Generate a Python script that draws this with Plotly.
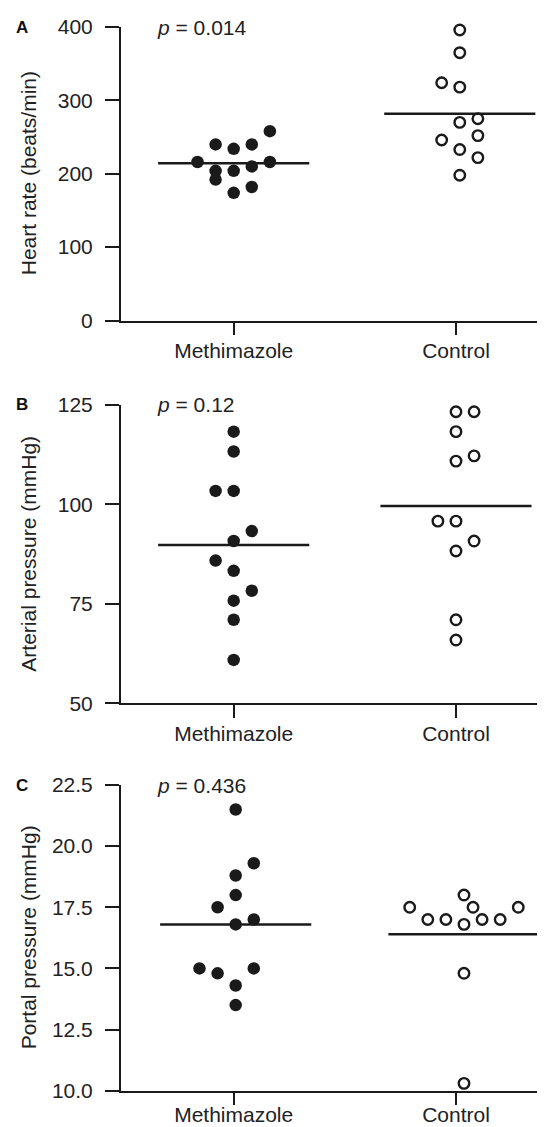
import numpy as np
import plotly.graph_objects as go

# ---------------- data ----------------
categories = ["Methimazole", "Control"]

hr_methimazole = [216, 240, 204, 192, 234, 204, 174, 240, 210, 182, 258, 216]
hr_control = [396, 365, 324, 318, 275, 270, 252, 246, 233, 222, 198]

ap_methimazole = [118.3, 113.3, 103.4, 103.4, 93.3, 90.8, 85.9, 83.3, 78.3, 75.8, 71.0, 60.9]
ap_control = [123.3, 123.3, 118.3, 112.2, 110.9, 95.8, 95.8, 90.8, 88.3, 71.0, 65.9]

pp_methimazole = [21.5, 19.3, 18.8, 18.0, 17.5, 17.0, 16.8, 15.0, 15.0, 14.8, 14.3, 13.5]
pp_control = [18.0, 17.5, 17.5, 17.5, 17.0, 17.0, 17.0, 17.0, 16.8, 14.8, 10.3]

p_values = ["0.014", "0.12", "0.436"]
panel_letters = ["A", "B", "C"]
y_titles = ["Heart rate (beats/min)", "Arterial pressure (mmHg)", "Portal pressure (mmHg)"]
y_ticks = [[0, 100, 200, 300, 400], [50, 75, 100, 125], [10.0, 12.5, 15.0, 17.5, 20.0, 22.5]]
y_ticktext = [["0", "100", "200", "300", "400"], ["50", "75", "100", "125"],
              ["10.0", "12.5", "15.0", "17.5", "20.0", "22.5"]]
y_ranges = [[0, 400], [50, 125], [10, 22.5]]

# ---------------- layout helpers (beeswarm slots, not data) ----------------
hr_m_slots = [-2, -1, -1, -1, 0, 0, 0, 1, 1, 1, 2, 2]
hr_c_slots = [0, 0, -1, 0, 1, 0, 1, -1, 0, 1, 0]
ap_m_slots = [0, 0, -1, 0, 1, 0, -1, 0, 1, 0, 0, 0]
ap_c_slots = [0, 1, 0, 1, 0, -1, 0, 1, 0, 0, 0]
pp_m_slots = [0, 1, 0, 0, -1, 1, 0, -2, 1, -1, 0, 0]
pp_c_slots = [0, -3, 0.5, 3, -2, -1, 1, 2, 0, 0, 0]

SLOT = 0.0814
HALF = 0.34
centre_shift = [(0.0, 0.017), (0.0, 0.0), (0.009, 0.036)]
x_label_standoff = [-2, -2, -9]

panels = [
    (hr_methimazole, hr_control, hr_m_slots, hr_c_slots),
    (ap_methimazole, ap_control, ap_m_slots, ap_c_slots),
    (pp_methimazole, pp_control, pp_m_slots, pp_c_slots),
]

# the page body has an 8px margin, so the figure is drawn 8px smaller and
# all window pixel positions are shifted by 8
OFF = 8.0
W = 545.0 - OFF
H = 1127.0 - OFF
px_domains = [(27.0, 320.5), (405.0, 703.3), (785.0, 1090.7)]   # window px (top, bottom)
x_left_win = 120.7
x_range = [-0.5083, 1.4004]

INK = "#1a1a1a"
TXT = "#222222"
FONT = "Liberation Sans"
FS = 21

fig = go.Figure()
layout = dict(
    template="none",
    width=int(W), height=int(H),
    margin=dict(l=0, r=0, t=0, b=0, pad=0),
    paper_bgcolor="white", plot_bgcolor="white",
    showlegend=False,
    font=dict(family=FONT, size=FS, color=TXT),
)
annotations = []

for i, (m_vals, c_vals, m_slots, c_slots) in enumerate(panels):
    n = "" if i == 0 else str(i + 1)
    xa, ya = "x" + n, "y" + n
    ms, cs = centre_shift[i]
    mx = [0 + ms + s * SLOT for s in m_slots]
    cx = [1 + cs + s * SLOT for s in c_slots]
    fig.add_trace(go.Scatter(x=mx, y=m_vals, mode="markers", xaxis=xa, yaxis=ya,
                             marker=dict(symbol="circle", size=12.5, color=INK,
                                         line=dict(width=0)), cliponaxis=False))
    fig.add_trace(go.Scatter(x=cx, y=c_vals, mode="markers", xaxis=xa, yaxis=ya,
                             marker=dict(symbol="circle-open", size=10.5, color=INK,
                                         line=dict(width=2.4, color=INK)), cliponaxis=False))
    m_mean = float(np.mean(m_vals))
    c_mean = float(np.mean(c_vals))
    fig.add_trace(go.Scatter(x=[0 + ms - HALF, 0 + ms + HALF], y=[m_mean, m_mean], mode="lines",
                             xaxis=xa, yaxis=ya, line=dict(color=INK, width=2.5), cliponaxis=False))
    fig.add_trace(go.Scatter(x=[1 + cs - HALF, 1 + cs + HALF], y=[c_mean, c_mean], mode="lines",
                             xaxis=xa, yaxis=ya, line=dict(color=INK, width=2.5), cliponaxis=False))

    top, bot = px_domains[i]
    ydom = [1 - (bot - OFF) / H, 1 - (top - OFF) / H]
    layout["xaxis" + n] = dict(
        domain=[(x_left_win - OFF) / W, 1.0], anchor=ya, range=x_range, automargin=False,
        tickvals=[0, 1], ticktext=categories, ticks="outside", ticklen=13,
        ticklabelstandoff=x_label_standoff[i],
        tickwidth=1.5, tickcolor=INK, showline=True, linecolor=INK, linewidth=1.5,
        showgrid=False, zeroline=False, tickfont=dict(family=FONT, size=FS, color=TXT),
    )
    layout["yaxis" + n] = dict(
        domain=ydom, anchor=xa, range=y_ranges[i], automargin=False,
        tickvals=y_ticks[i], ticktext=y_ticktext[i], ticks="outside", ticklen=14,
        ticklabelstandoff=8,
        tickwidth=1.5, tickcolor=INK, showline=True, linecolor=INK, linewidth=1.5,
        showgrid=False, zeroline=False, tickfont=dict(family=FONT, size=FS, color=TXT),
    )
    annotations.append(dict(text=y_titles[i], textangle=-90, xref="paper", yref=ya + " domain",
                            x=(28.5 - OFF) / W, y=0.5, xanchor="center", yanchor="middle",
                            showarrow=False, font=dict(family=FONT, size=FS, color=TXT)))
    annotations.append(dict(text="<b>" + panel_letters[i] + "</b>", xref="paper", yref=ya,
                            x=(13.5 - OFF) / W, y=y_ranges[i][1], xanchor="left", yanchor="middle",
                            showarrow=False, font=dict(family=FONT, size=17, color="#111111")))
    annotations.append(dict(text="<i>p</i> = " + p_values[i], xref=xa + " domain", yref=ya,
                            x=(155.4 - x_left_win) / (545 - x_left_win), y=y_ranges[i][1],
                            xanchor="left", yanchor="middle", showarrow=False,
                            font=dict(family=FONT, size=FS, color=TXT)))

layout["annotations"] = annotations
fig.update_layout(**layout)
fig.write_html("out.html")
